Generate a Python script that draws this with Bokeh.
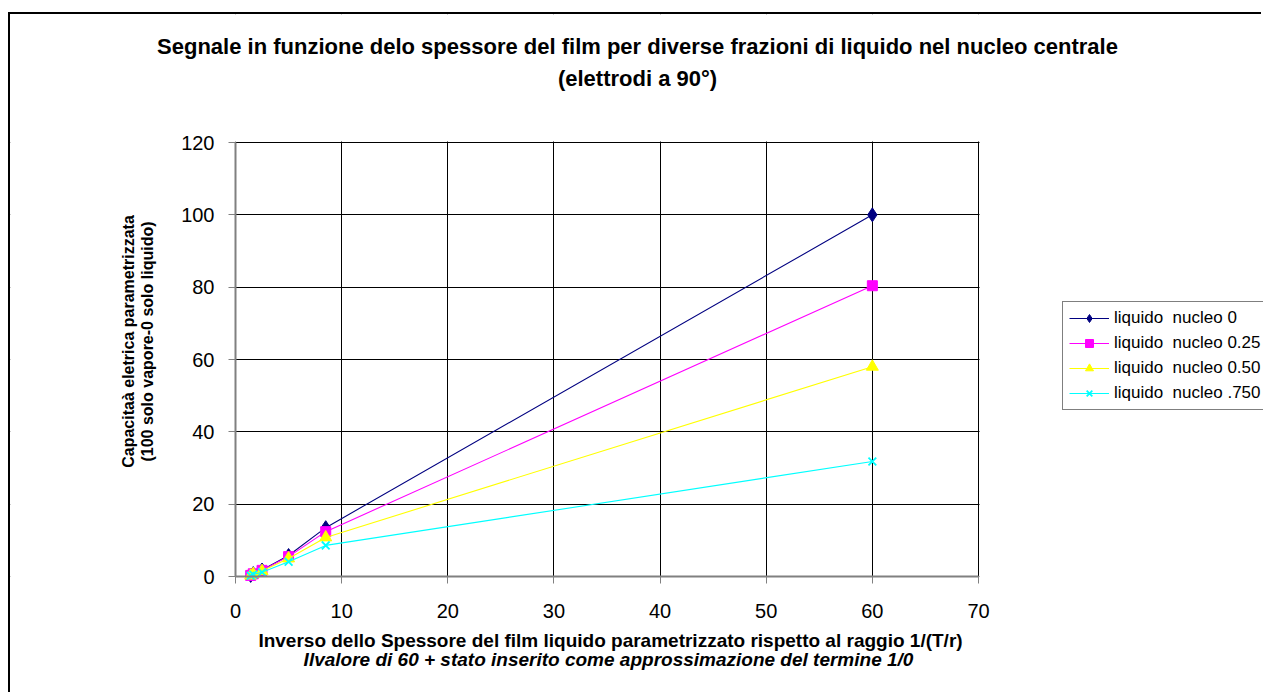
import math
from bokeh.plotting import figure
from bokeh.models import Label, Legend, LegendItem, Range1d, FixedTicker, BoxAnnotation
from bokeh.embed import file_html
from bokeh.resources import INLINE

# ---- data ----
x_vals = [1.43, 1.67, 2.5, 5.0, 8.5, 60.0]
s_0 = [0.3, 0.8, 1.8, 5.8, 13.5, 100.0]
s_25 = [0.3, 0.75, 1.7, 5.5, 12.4, 80.4]
s_50 = [0.25, 0.7, 1.5, 5.0, 10.8, 58.0]
s_75 = [0.2, 0.55, 1.2, 4.1, 8.6, 31.8]
series_names = ["liquido  nucleo 0", "liquido  nucleo 0.25",
                "liquido  nucleo 0.50", "liquido  nucleo .750"]
x_ticks = [0, 10, 20, 30, 40, 50, 60, 70]
y_ticks = [0, 20, 40, 60, 80, 100, 120]
x_lim = (0, 70)
y_lim = (0, 120)

title_1 = "Segnale in funzione delo spessore del film per diverse frazioni di liquido nel nucleo centrale"
title_2 = "(elettrodi a 90°)"
xtitle_1 = "Inverso dello Spessore del film liquido parametrizzato rispetto al raggio 1/(T/r)"
xtitle_2 = "Ilvalore di 60 + stato inserito come approssimazione del termine 1/0"
ytitle_1 = "Capacitaà eletrica parametrizzata"
ytitle_2 = "(100 solo vapore-0 solo liquido)"

FONT = "Liberation Sans"

# ---- layout (page pixels) ----
PLOT_L, PLOT_R, PLOT_T, PLOT_B = 235, 978, 142, 576   # plot area on the page
CANVAS_L, CANVAS_T, W, H = 10, 14, 1253, 680
KX = (PLOT_R - PLOT_L) / (x_lim[1] - x_lim[0])
KY = (PLOT_B - PLOT_T) / (y_lim[1] - y_lim[0])

def dx(px):
    return x_lim[0] + (px - PLOT_L) / KX

def dy(py):
    return y_lim[0] + (PLOT_B - py) / KY

p = figure(width=W, height=H, output_backend="svg", toolbar_location=None,
           x_range=Range1d(dx(CANVAS_L), dx(CANVAS_L + W)),
           y_range=Range1d(dy(CANVAS_T + H), dy(CANVAS_T)),
           min_border=0, min_border_left=0, min_border_right=0,
           min_border_top=0, min_border_bottom=0)
p.margin = (12, 0, 0, 8)
p.styles = {"border-left": "2px solid black", "border-top": "2px solid black"}
p.background_fill_color = "white"
p.border_fill_color = "white"
p.outline_line_color = None

p.xgrid.grid_line_color = "black"
p.ygrid.grid_line_color = "black"
p.xgrid.ticker = FixedTicker(ticks=x_ticks)
p.ygrid.ticker = FixedTicker(ticks=y_ticks)

# white masks so that the grid only fills the plot area
eps_x = 1.0 / KX
eps_y = 1.0 / KY
for kw in (dict(right=x_lim[0]), dict(left=x_lim[1] + eps_x),
           dict(top=y_lim[0]), dict(bottom=y_lim[1] + eps_y)):
    p.add_layout(BoxAnnotation(fill_color="white", fill_alpha=1, line_color=None,
                               level="underlay", **kw))

for ax, lim, ticks in ((p.xaxis[0], x_lim, x_ticks), (p.yaxis[0], y_lim, y_ticks)):
    ax.fixed_location = 0
    ax.bounds = lim
    ax.ticker = FixedTicker(ticks=ticks)
    ax.axis_line_color = "#808080"
    ax.axis_line_width = 2
    ax.major_tick_line_color = "#808080"
    ax.major_tick_out = 7
    ax.major_tick_in = 0
    ax.minor_tick_line_color = None
    ax.major_label_text_font = FONT
    ax.major_label_text_font_size = "20px"
    ax.major_label_text_color = "black"
p.xaxis[0].major_label_standoff = 20
p.yaxis[0].major_label_standoff = 14

colors = ["#000080", "#FF00FF", "#FFFF00", "#00FFFF"]
markers = ["diamond", "square", "triangle", "x"]
sizes = [14, 10, 12, 11]
series = [s_0, s_25, s_50, s_75]

items = []
for name, ys, c, m, sz in zip(series_names, series, colors, markers, sizes):
    lr = p.line(x_vals, ys, line_color=c, line_width=1.1)
    if m == "x":
        sr = p.scatter(x_vals, ys, marker=m, size=sz, line_color=c, line_width=1.8)
    else:
        sr = p.scatter(x_vals, ys, marker=m, size=sz, fill_color=c, line_color=c)
    items.append(LegendItem(label=name, renderers=[lr, sr]))

legend = Legend(items=items, location=(1062 - CANVAS_L, CANVAS_T + H - 410))
legend.border_line_color = "black"
legend.border_line_width = 1
legend.background_fill_color = "white"
legend.background_fill_alpha = 1
legend.label_text_font = FONT
legend.label_text_font_size = "17px"
legend.label_text_color = "black"
legend.glyph_width = 40
legend.glyph_height = 20
legend.spacing = 5
legend.padding = 6
legend.margin = 0
legend.label_standoff = 5
p.add_layout(legend)

def add_text(txt, px, py, size, style="bold", angle=0.0):
    p.add_layout(Label(x=dx(px), y=dy(py), text=txt, text_font=FONT,
                       text_font_size=size, text_font_style=style,
                       text_color="black",
                       text_align="center", text_baseline="middle", angle=angle))

add_text(title_1, 637, 46, "22px")
add_text(title_2, 637, 78, "22px")
add_text(xtitle_1, 610, 640, "19px")
add_text(xtitle_2, 608, 659, "19px", style="bold italic")
add_text(ytitle_1, 128, 341, "16px", angle=math.pi / 2)
add_text(ytitle_2, 147, 341, "16px", angle=math.pi / 2)

open("out.html", "w").write(file_html(p, INLINE))
